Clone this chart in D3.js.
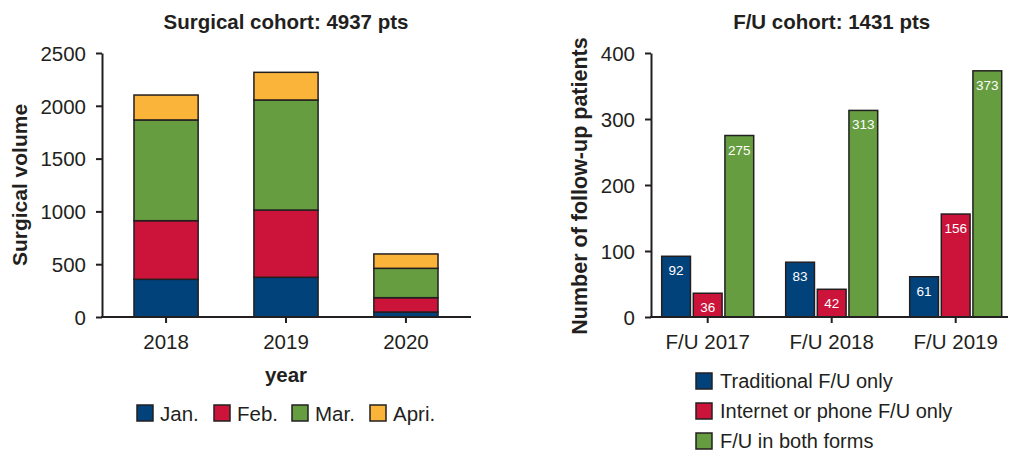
<!DOCTYPE html>
<html>
<head>
<meta charset="utf-8">
<script src="https://cdn.jsdelivr.net/npm/d3@7"></script>
<style>
  body { margin: 0; background: #fff; }
  svg { font-family: "Liberation Sans", Arial, sans-serif; }
  .axis path, .axis line { stroke: #231f20; stroke-width: 2; }
  .axis text { font-size: 20.5px; fill: #231f20; }
</style>
</head>
<body>
<svg width="1009" height="452"></svg>
<script>
// left chart data: surgical volume by month, stacked
const years = ["2018", "2019", "2020"];
const months = ["Jan.", "Feb.", "Mar.", "Apri."];
const jan = [357, 376, 47];
const feb = [555, 637, 136];
const mar = [954, 1042, 278];
const apr = [236, 262, 136];
const surgTicks = [0, 500, 1000, 1500, 2000, 2500];

// right chart data: follow-up patients
const fuYears = ["F/U 2017", "F/U 2018", "F/U 2019"];
const fuTypes = ["Traditional F/U only", "Internet or phone F/U only", "F/U in both forms"];
const traditional = [92, 83, 61];
const internet = [36, 42, 156];
const both = [275, 313, 373];
const fuTicks = [0, 100, 200, 300, 400];

const colors = ["#02427b", "#cc143a", "#669d41", "#fab43a"];
const ink = "#231f20";

const svg = d3.select("svg");

// ---------- left: stacked bars ----------
const monthRows = years.map((y, i) => ({year: y, "Jan.": jan[i], "Feb.": feb[i], "Mar.": mar[i], "Apri.": apr[i]}));
const stacked = d3.stack().keys(months)(monthRows);

const x1 = d3.scaleBand().domain(years).range([104, 468]).paddingInner(0.465).paddingOuter(0.25);
const y1 = d3.scaleLinear().domain([0, 2500]).range([317, 53]);

const left = svg.append("g");

left.selectAll("g.layer").data(stacked).enter()
  .append("g").attr("class", "layer")
  .attr("fill", (d, i) => colors[i])
  .selectAll("rect").data(d => d).enter()
  .append("rect")
  .attr("x", d => x1(d.data.year))
  .attr("width", x1.bandwidth())
  .attr("y", d => y1(d[1]))
  .attr("height", d => y1(d[0]) - y1(d[1]))
  .attr("stroke", ink)
  .attr("stroke-width", 1.5);

left.append("g").attr("class", "axis")
  .attr("transform", "translate(102,0)")
  .call(d3.axisLeft(y1).tickValues(surgTicks).tickFormat(d3.format("d"))
    .tickSize(6).tickSizeOuter(0).tickPadding(10))
  .selectAll("text").attr("dy", "0.36em");

left.append("g").attr("class", "axis")
  .attr("transform", "translate(0,317)")
  .call(d3.axisBottom(x1).tickSize(6).tickSizeOuter(0).tickPadding(11))
  .select(".domain").remove();
left.append("line").attr("x1", 101).attr("x2", 471).attr("y1", 317).attr("y2", 317)
  .attr("stroke", ink).attr("stroke-width", 2);

left.append("text").attr("x", x1("2019") + x1.bandwidth() / 2).attr("y", 29)
  .attr("text-anchor", "middle").attr("font-weight", "bold").attr("font-size", 20.5)
  .attr("fill", ink).text("Surgical cohort: 4937 pts");

left.append("text").attr("transform", "translate(27,185) rotate(-90)")
  .attr("text-anchor", "middle").attr("font-weight", "bold").attr("font-size", 21)
  .attr("fill", ink).text("Surgical volume");

left.append("text").attr("x", x1("2019") + x1.bandwidth() / 2).attr("y", 382)
  .attr("text-anchor", "middle").attr("font-weight", "bold").attr("font-size", 20.5)
  .attr("fill", ink).text("year");

const legendX = [137, 214, 292, 370];
const leg1 = left.selectAll("g.leg").data(months).enter()
  .append("g").attr("class", "leg")
  .attr("transform", (d, i) => "translate(" + legendX[i] + ",405)");
leg1.append("rect").attr("width", 16).attr("height", 16)
  .attr("fill", (d, i) => colors[i]).attr("stroke", ink).attr("stroke-width", 1.5);
leg1.append("text").attr("x", 23).attr("y", 15.5).attr("font-size", 20.5)
  .attr("fill", ink).text(d => d);

// ---------- right: grouped bars ----------
const fuRows = fuYears.map((y, i) => ({year: y, values: [traditional[i], internet[i], both[i]]}));

const x2 = d3.scaleBand().domain(fuYears).range([645.7, 1017.7]).paddingInner(0.258).paddingOuter(0.129);
const xs = d3.scaleBand().domain(d3.range(3)).range([0, x2.bandwidth()]).paddingInner(0.09);
const y2 = d3.scaleLinear().domain([0, 400]).range([317, 53]);

const right = svg.append("g");

const grp = right.selectAll("g.grp").data(fuRows).enter()
  .append("g").attr("class", "grp")
  .attr("transform", d => "translate(" + x2(d.year) + ",0)");

const bar = grp.selectAll("g.bar").data(d => d.values.map((v, i) => ({v: v, i: i}))).enter()
  .append("g").attr("class", "bar");
bar.append("rect")
  .attr("x", d => xs(d.i))
  .attr("width", xs.bandwidth())
  .attr("y", d => y2(d.v))
  .attr("height", d => y2(0) - y2(d.v))
  .attr("fill", d => colors[d.i])
  .attr("stroke", ink).attr("stroke-width", 1.5);
bar.append("text")
  .attr("x", d => xs(d.i) + xs.bandwidth() / 2)
  .attr("y", d => y2(d.v) + 19)
  .attr("text-anchor", "middle").attr("font-size", 13.5)
  .attr("fill", "#fff").text(d => d.v);

right.append("g").attr("class", "axis")
  .attr("transform", "translate(651,0)")
  .call(d3.axisLeft(y2).tickValues(fuTicks).tickSize(6).tickSizeOuter(0).tickPadding(10))
  .selectAll("text").attr("dy", "0.36em");

right.append("g").attr("class", "axis")
  .attr("transform", "translate(0,317)")
  .call(d3.axisBottom(x2).tickSize(6).tickSizeOuter(0).tickPadding(11))
  .select(".domain").remove();
right.append("line").attr("x1", 650).attr("x2", 1008).attr("y1", 317).attr("y2", 317)
  .attr("stroke", ink).attr("stroke-width", 2);

right.append("text").attr("x", x2("F/U 2018") + x2.bandwidth() / 2).attr("y", 29)
  .attr("text-anchor", "middle").attr("font-weight", "bold").attr("font-size", 20.5)
  .attr("fill", ink).text("F/U cohort: 1431 pts");

right.append("text").attr("transform", "translate(587,186) rotate(-90)")
  .attr("text-anchor", "middle").attr("font-weight", "bold").attr("font-size", 21.5)
  .attr("fill", ink).text("Number of follow-up patients");

const leg2 = right.selectAll("g.leg").data(fuTypes).enter()
  .append("g").attr("class", "leg")
  .attr("transform", (d, i) => "translate(696," + (373 + i * 30) + ")");
leg2.append("rect").attr("width", 16).attr("height", 16)
  .attr("fill", (d, i) => colors[i]).attr("stroke", ink).attr("stroke-width", 1.5);
leg2.append("text").attr("x", 24).attr("y", 15).attr("font-size", 20)
  .attr("fill", ink).text(d => d);
</script>
</body>
</html>
